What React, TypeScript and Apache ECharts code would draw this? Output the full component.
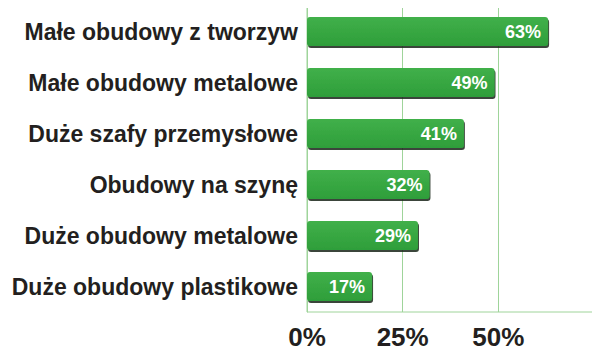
import React, { useEffect, useRef } from "react";
import * as echarts from "echarts";

const categories = [
  "Małe obudowy z tworzyw",
  "Małe obudowy metalowe",
  "Duże szafy przemysłowe",
  "Obudowy na szynę",
  "Duże obudowy metalowe",
  "Duże obudowy plastikowe",
];
const values = [63, 49, 41, 32, 29, 17];
const tickValues = [0, 25, 50, 75];

export default function App() {
  const ref = useRef<HTMLDivElement>(null);
  useEffect(() => {
    if (!ref.current) return;
    const chart = echarts.init(ref.current, undefined, { renderer: "svg" });
    const font = "'Liberation Sans', Arial, sans-serif";
    chart.setOption({
      animation: false,
      grid: {
        left: 307,
        right: 6,
        top: 6,
        bottom: 44,
        show: true,
        borderColor: "#9fd49a",
        borderWidth: 1,
      },
      xAxis: {
        type: "value",
        min: tickValues[0],
        max: tickValues[tickValues.length - 1],
        interval: 25,
        axisLine: { show: false },
        axisTick: { show: false },
        splitLine: { show: true, lineStyle: { color: "#9fd49a", width: 1 } },
        axisLabel: {
          margin: 12,
          fontSize: 26,
          fontWeight: "bold",
          fontFamily: font,
          color: "#231f20",
          formatter: (v: number) => (v >= 75 ? "" : v + "%"),
        },
      },
      yAxis: {
        type: "category",
        inverse: true,
        data: categories,
        axisLine: { show: true, lineStyle: { color: "#9fd49a" } },
        axisTick: { show: false },
        axisLabel: {
          margin: 9,
          fontSize: 23,
          fontWeight: "bold",
          fontFamily: font,
          color: "#231f20",
        },
      },
      series: [
        {
          type: "bar",
          data: values,
          barWidth: 29,
          itemStyle: {
            borderRadius: 3,
            color: new echarts.graphic.LinearGradient(0, 0, 0, 1, [
              { offset: 0, color: "#41b04a" },
              { offset: 1, color: "#2e9e3a" },
            ]),
            shadowColor: "rgba(20,40,20,0.85)",
            shadowOffsetX: 1,
            shadowOffsetY: 2,
            shadowBlur: 1,
          },
          label: {
            show: true,
            position: "insideRight",
            distance: 7,
            formatter: "{c}%",
            fontSize: 18,
            fontWeight: "bold",
            fontFamily: font,
            color: "#ffffff",
          },
        },
      ],
    });
    return () => chart.dispose();
  }, []);
  return <div ref={ref} style={{ width: 600, height: 356, margin: -8 }} />;
}
